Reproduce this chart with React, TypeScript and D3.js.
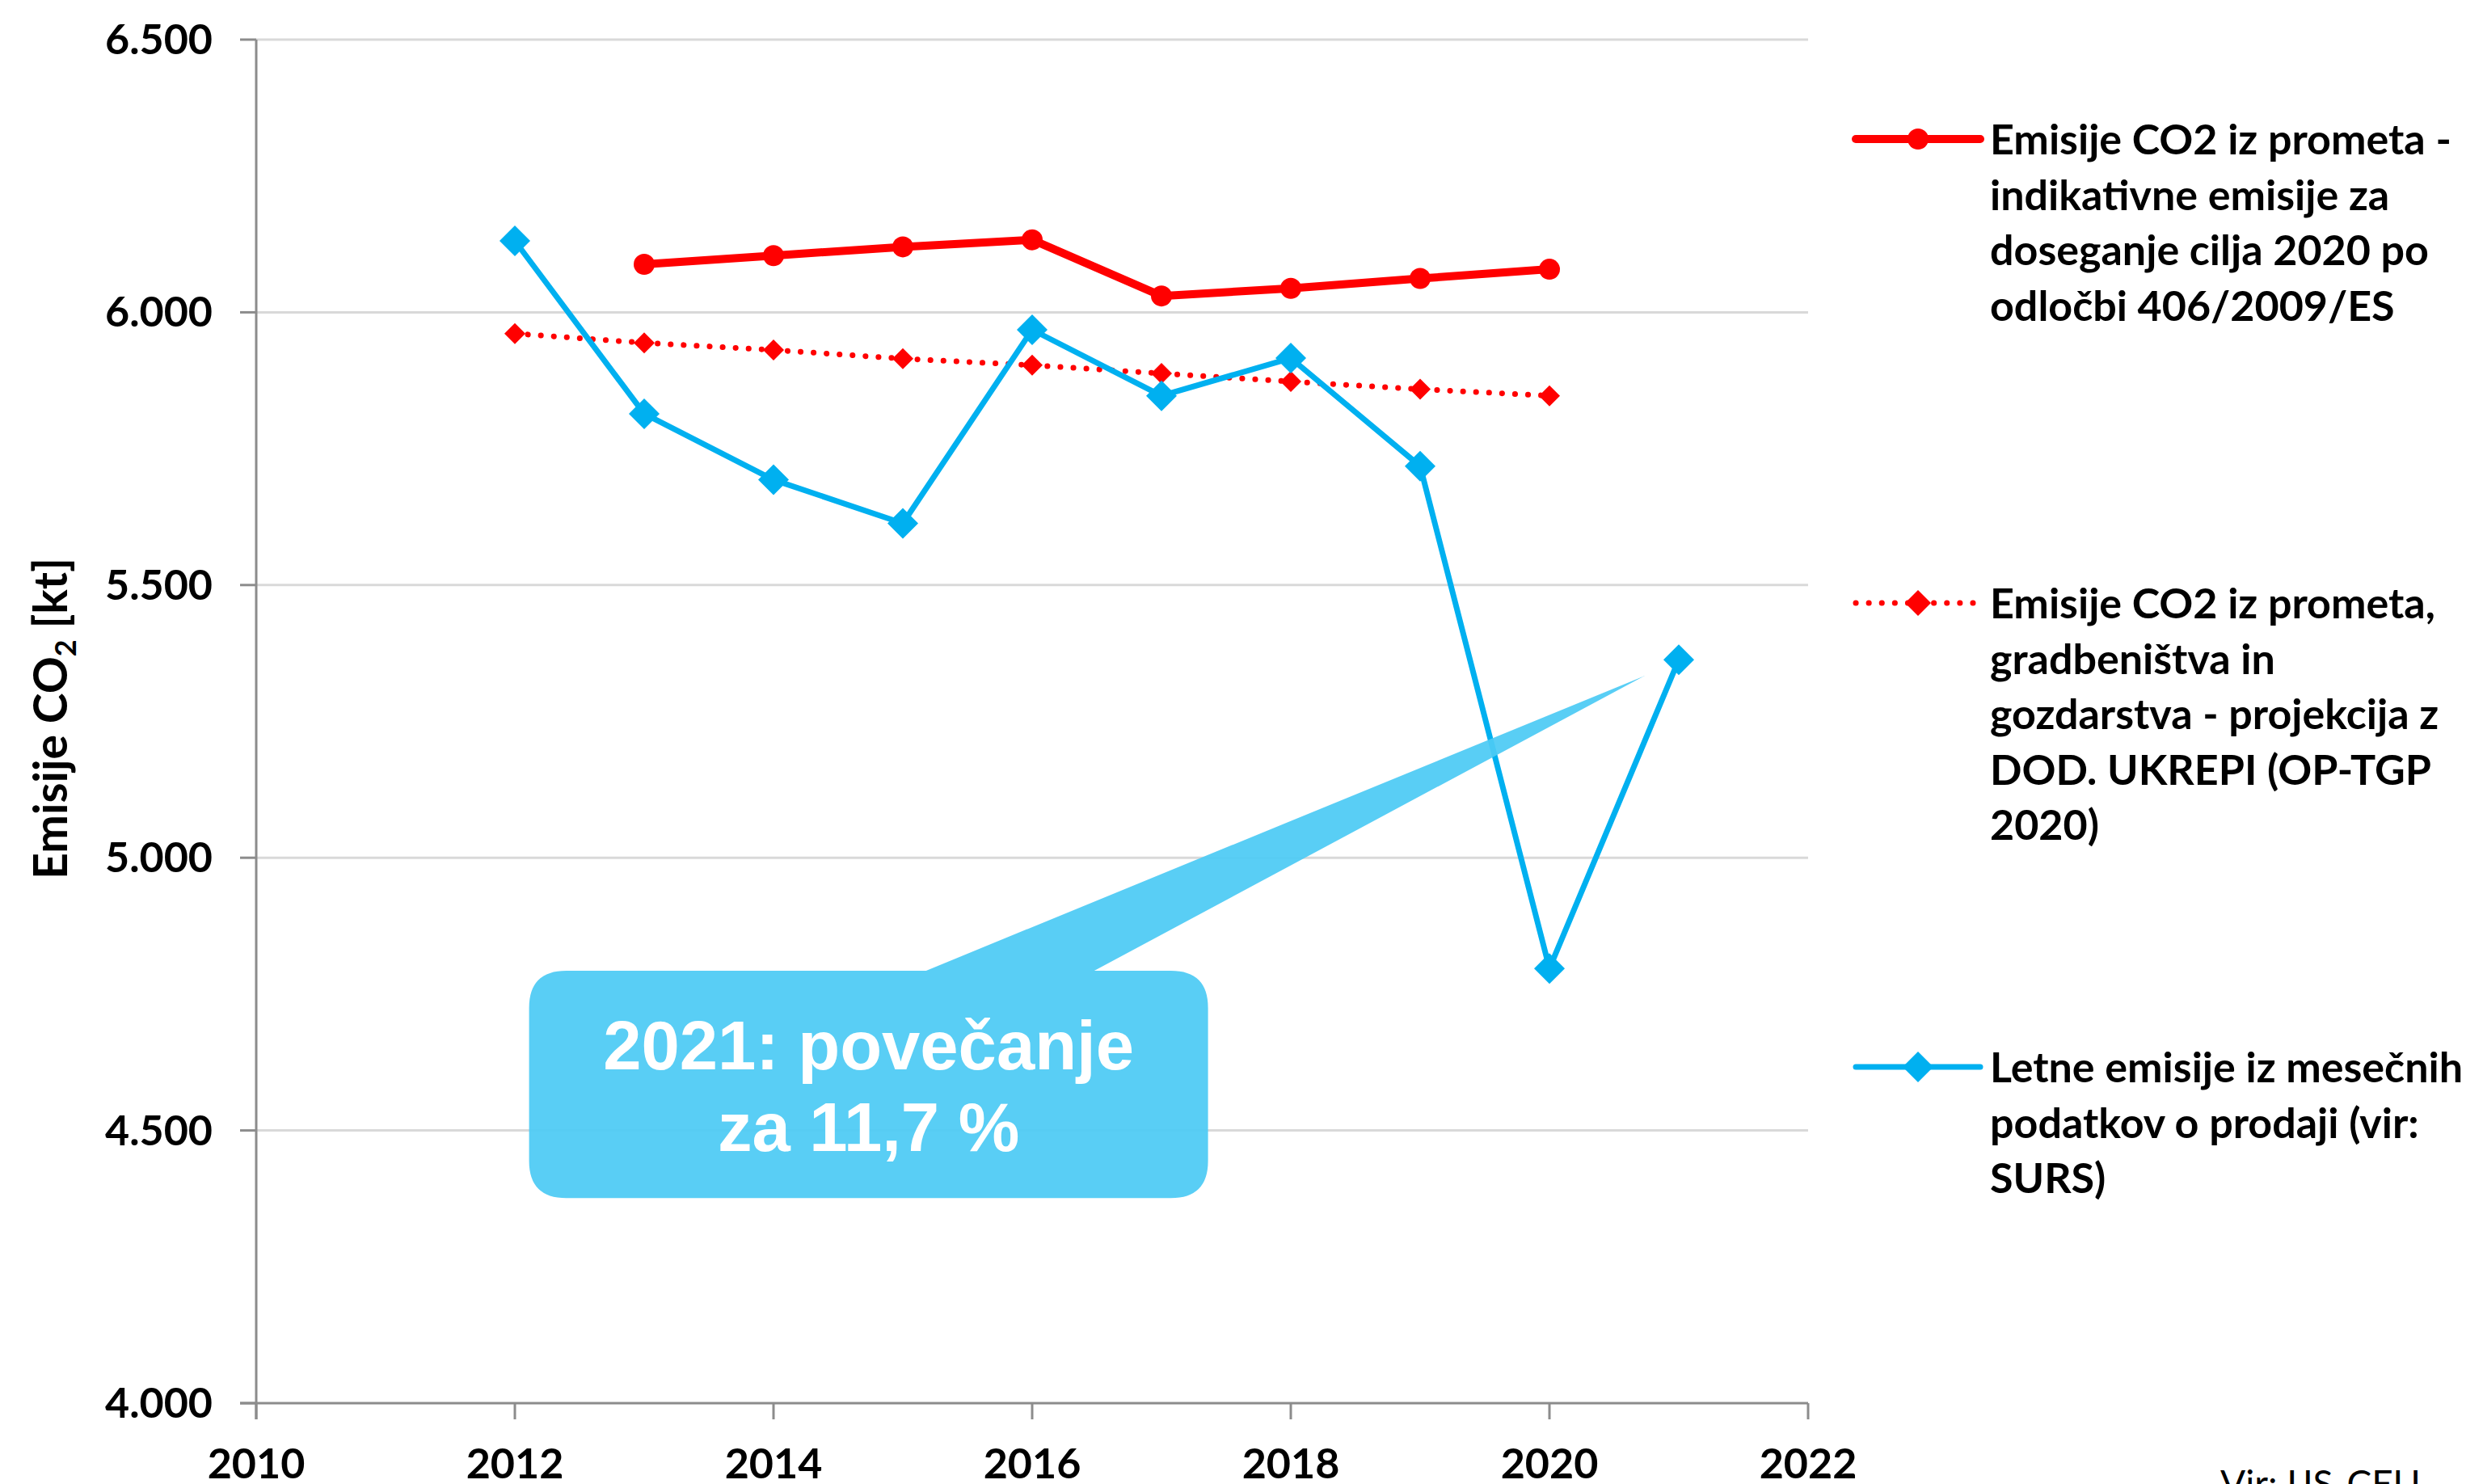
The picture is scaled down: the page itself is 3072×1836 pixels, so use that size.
import React from "react";
import * as d3 from "d3";

// ---- data ----
const xTicks = [2010, 2012, 2014, 2016, 2018, 2020, 2022];
const yTicks = [4000, 4500, 5000, 5500, 6000, 6500];

const targetYears = [2013, 2014, 2015, 2016, 2017, 2018, 2019, 2020];
const targetValues = [6088, 6104, 6120, 6133, 6030, 6044, 6062, 6079];

const projYears = [2012, 2013, 2014, 2015, 2016, 2017, 2018, 2019, 2020];
const projValues = [5961, 5944, 5931, 5915, 5903, 5888, 5873, 5859, 5847];

const salesYears = [2012, 2013, 2014, 2015, 2016, 2017, 2018, 2019, 2020, 2021];
const salesValues = [6131, 5814, 5693, 5613, 5968, 5847, 5916, 5718, 4797, 5363];

const legend1 = [
  "Emisije CO2 iz prometa -",
  "indikativne emisije za",
  "doseganje cilja 2020 po",
  "odločbi 406/2009/ES",
];
const legend2 = [
  "Emisije CO2 iz prometa,",
  "gradbeništva in",
  "gozdarstva - projekcija z",
  "DOD. UKREPI (OP-TGP",
  "2020)",
];
const legend3 = [
  "Letne emisije iz mesečnih",
  "podatkov o prodaji (vir:",
  "SURS)",
];
const calloutLines = ["2021: povečanje", "za 11,7 %"];
const sourceText = "Vir: IJS-CEU";

// ---- styles ----
const RED = "#FF0000";
const BLUE = "#00B0F0";
const CALLOUT = "#4CCAF4";
const AXIS = "#8C8C8C";
const GRID = "#D9D9D9";
const FONT = "Lato, 'Open Sans', sans-serif";

const W = 3072;
const H = 1836;

const x = d3.scaleLinear().domain([2010, 2022]).range([317, 2237]);
const y = d3.scaleLinear().domain([4000, 6500]).range([1736, 49]);

const fmt = d3
  .formatLocale({ decimal: ",", thousands: ".", grouping: [3], currency: ["", ""] })
  .format(",.0f");

const diamond = (cx: number, cy: number, r: number) =>
  `M${cx},${cy - r}L${cx + r},${cy}L${cx},${cy + r}L${cx - r},${cy}Z`;

const line = d3
  .line<[number, number]>()
  .x((d) => x(d[0]))
  .y((d) => y(d[1]));

const zip = (a: number[], b: number[]) => a.map((v, i) => [v, b[i]] as [number, number]);

export default function App() {
  const target = zip(targetYears, targetValues);
  const proj = zip(projYears, projValues);
  const sales = zip(salesYears, salesValues);

  // callout (data space)
  const bx0 = x(2012.11), bx1 = x(2017.36);
  const by0 = y(4793), by1 = y(4376);
  const pb0 = x(2015.18), pb1 = x(2016.48);
  const tipX = x(2020.74), tipY = y(5334);
  const r = 46;
  const calloutPath =
    `M${bx0 + r},${by0}L${pb0},${by0}L${tipX},${tipY}L${pb1},${by0}L${bx1 - r},${by0}` +
    `Q${bx1},${by0} ${bx1},${by0 + r}L${bx1},${by1 - r}Q${bx1},${by1} ${bx1 - r},${by1}` +
    `L${bx0 + r},${by1}Q${bx0},${by1} ${bx0},${by1 - r}L${bx0},${by0 + r}Q${bx0},${by0} ${bx0 + r},${by0}Z`;
  const textCx = (bx0 + bx1) / 2;

  const legX0 = 2296, legX1 = 2450, legMid = 2373, legText = 2462;
  const pitch = 68.5;
  const legendEntries = [
    { lines: legend1, ly: 172, kind: "target" },
    { lines: legend2, ly: 746, kind: "proj" },
    { lines: legend3, ly: 1320, kind: "sales" },
  ];

  return (
    <svg
      width={W}
      height={H}
      viewBox={`0 0 ${W} ${H}`}
      style={{ position: "absolute", left: 0, top: 0, background: "#fff", display: "block" }}
    >
      <rect x={0} y={0} width={W} height={H} fill="#fff" />
      {/* gridlines */}
      {yTicks.slice(1).map((t) => (
        <line key={t} x1={x(2010)} x2={x(2022)} y1={y(t)} y2={y(t)} stroke={GRID} strokeWidth={3} />
      ))}
      {/* axes */}
      <line x1={x(2010)} x2={x(2010)} y1={y(6500)} y2={y(4000) + 20} stroke={AXIS} strokeWidth={3} />
      <line x1={x(2010) - 20} x2={x(2022)} y1={y(4000)} y2={y(4000)} stroke={AXIS} strokeWidth={3} />
      {yTicks.map((t) => (
        <g key={t}>
          <line x1={x(2010) - 20} x2={x(2010)} y1={y(t)} y2={y(t)} stroke={AXIS} strokeWidth={3} />
          <text
            x={263}
            y={y(t) + 18}
            textAnchor="end"
            fontFamily={FONT}
            fontWeight={700}
            fontSize={52}
            fill="#000"
          >
            {fmt(t)}
          </text>
        </g>
      ))}
      {xTicks.map((t) => (
        <g key={t}>
          <line x1={x(t)} x2={x(t)} y1={y(4000)} y2={y(4000) + 20} stroke={AXIS} strokeWidth={3} />
          <text x={x(t)} y={1829} textAnchor="middle" fontFamily={FONT} fontWeight={700} fontSize={52} fill="#000">
            {t}
          </text>
        </g>
      ))}
      {/* y axis title */}
      <text
        transform={`translate(83, 889) rotate(-90)`}
        textAnchor="middle"
        fontFamily={FONT}
        fontWeight={700}
        fontSize={57}
        fill="#000"
      >
        Emisije CO<tspan fontSize={36} dy={11}>2</tspan>
        <tspan dy={-11}> [kt]</tspan>
      </text>

      {/* series: dotted projection */}
      <path
        d={line(proj) || ""}
        fill="none"
        stroke={RED}
        strokeWidth={7}
        strokeLinecap="round"
        strokeDasharray="0.1 16"
      />
      {proj.map((d, i) => (
        <path key={i} d={diamond(x(d[0]), y(d[1]), 13)} fill={RED} />
      ))}
      {/* target */}
      <path d={line(target) || ""} fill="none" stroke={RED} strokeWidth={10} strokeLinejoin="round" />
      {target.map((d, i) => (
        <circle key={i} cx={x(d[0])} cy={y(d[1])} r={13} fill={RED} />
      ))}
      {/* sales */}
      <path d={line(sales) || ""} fill="none" stroke={BLUE} strokeWidth={7} strokeLinejoin="round" />
      {sales.map((d, i) => (
        <path key={i} d={diamond(x(d[0]), y(d[1]), 19)} fill={BLUE} />
      ))}

      {/* callout */}
      <path d={calloutPath} fill={CALLOUT} fillOpacity={0.93} />
      {calloutLines.map((l, i) => (
        <text
          key={i}
          x={textCx}
          y={[by0 + 122, by0 + 223][i]}
          textAnchor="middle"
          fontFamily="'Liberation Sans', Arial, sans-serif"
          fontWeight={700}
          fontSize={85}
          fill="#fff"
        >
          {l}
        </text>
      ))}

      {/* legend */}
      {legendEntries.map((e) => (
        <g key={e.kind}>
          {e.kind === "target" && (
            <>
              <line x1={legX0} x2={legX1} y1={e.ly} y2={e.ly} stroke={RED} strokeWidth={10} strokeLinecap="round" />
              <circle cx={legMid} cy={e.ly} r={13} fill={RED} />
            </>
          )}
          {e.kind === "proj" && (
            <>
              <line
                x1={legX0}
                x2={legX1}
                y1={e.ly}
                y2={e.ly}
                stroke={RED}
                strokeWidth={7}
                strokeLinecap="round"
                strokeDasharray="0.1 16"
              />
              <path d={diamond(legMid, e.ly, 16)} fill={RED} />
            </>
          )}
          {e.kind === "sales" && (
            <>
              <line x1={legX0} x2={legX1} y1={e.ly} y2={e.ly} stroke={BLUE} strokeWidth={7} strokeLinecap="round" />
              <path d={diamond(legMid, e.ly, 19)} fill={BLUE} />
            </>
          )}
          {e.lines.map((l, i) => (
            <text
              key={i}
              x={legText}
              y={e.ly + 19 + i * pitch}
              fontFamily={FONT}
              fontWeight={700}
              fontSize={52}
              fill="#000"
            >
              {l}
            </text>
          ))}
        </g>
      ))}

      {/* source */}
      <text x={2747} y={1852} fontFamily={FONT} fontSize={46} fill="#000">
        {sourceText}
      </text>
    </svg>
  );
}
